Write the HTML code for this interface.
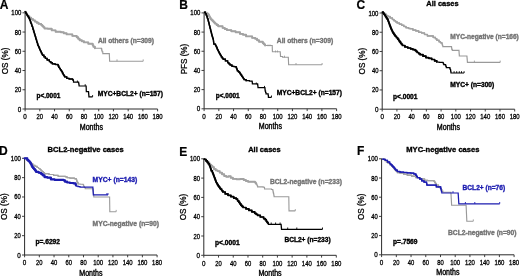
<!DOCTYPE html>
<html><head><meta charset="utf-8"><style>
html,body{margin:0;padding:0;background:#fff;width:520px;height:276px;overflow:hidden}
svg{display:block;will-change:transform}
text{font-family:"Liberation Sans", sans-serif}
</style></head><body>
<svg width="520" height="276" viewBox="0 0 520 276">
<rect width="520" height="276" fill="#fff"/>
<path d="M25.10 12.50V109.00H157.60" fill="none" stroke="#2a2a2a" stroke-width="1"/>
<path d="M22.50 109.00H25.10" stroke="#2a2a2a" stroke-width="0.9"/>
<text x="17.80" y="111.50" font-size="7" stroke="#000" stroke-width="0.3" textLength="3.5" lengthAdjust="spacingAndGlyphs">0</text>
<path d="M22.50 89.76H25.10" stroke="#2a2a2a" stroke-width="0.9"/>
<text x="14.80" y="92.26" font-size="7" stroke="#000" stroke-width="0.3" textLength="6.5" lengthAdjust="spacingAndGlyphs">20</text>
<path d="M22.50 70.52H25.10" stroke="#2a2a2a" stroke-width="0.9"/>
<text x="14.80" y="73.02" font-size="7" stroke="#000" stroke-width="0.3" textLength="6.5" lengthAdjust="spacingAndGlyphs">40</text>
<path d="M22.50 51.28H25.10" stroke="#2a2a2a" stroke-width="0.9"/>
<text x="14.80" y="53.78" font-size="7" stroke="#000" stroke-width="0.3" textLength="6.5" lengthAdjust="spacingAndGlyphs">60</text>
<path d="M22.50 32.04H25.10" stroke="#2a2a2a" stroke-width="0.9"/>
<text x="14.80" y="34.54" font-size="7" stroke="#000" stroke-width="0.3" textLength="6.5" lengthAdjust="spacingAndGlyphs">80</text>
<path d="M22.50 12.80H25.10" stroke="#2a2a2a" stroke-width="0.9"/>
<text x="11.30" y="15.30" font-size="7" stroke="#000" stroke-width="0.3" textLength="10.0" lengthAdjust="spacingAndGlyphs">100</text>
<path d="M25.10 109.00V111.30" stroke="#2a2a2a" stroke-width="0.9"/>
<text x="23.35" y="119.20" font-size="7" stroke="#000" stroke-width="0.3" textLength="3.5" lengthAdjust="spacingAndGlyphs">0</text>
<path d="M39.82 109.00V111.30" stroke="#2a2a2a" stroke-width="0.9"/>
<text x="36.57" y="119.20" font-size="7" stroke="#000" stroke-width="0.3" textLength="6.5" lengthAdjust="spacingAndGlyphs">20</text>
<path d="M54.54 109.00V111.30" stroke="#2a2a2a" stroke-width="0.9"/>
<text x="51.29" y="119.20" font-size="7" stroke="#000" stroke-width="0.3" textLength="6.5" lengthAdjust="spacingAndGlyphs">40</text>
<path d="M69.27 109.00V111.30" stroke="#2a2a2a" stroke-width="0.9"/>
<text x="66.02" y="119.20" font-size="7" stroke="#000" stroke-width="0.3" textLength="6.5" lengthAdjust="spacingAndGlyphs">60</text>
<path d="M83.99 109.00V111.30" stroke="#2a2a2a" stroke-width="0.9"/>
<text x="80.74" y="119.20" font-size="7" stroke="#000" stroke-width="0.3" textLength="6.5" lengthAdjust="spacingAndGlyphs">80</text>
<path d="M98.71 109.00V111.30" stroke="#2a2a2a" stroke-width="0.9"/>
<text x="93.71" y="119.20" font-size="7" stroke="#000" stroke-width="0.3" textLength="10.0" lengthAdjust="spacingAndGlyphs">100</text>
<path d="M113.43 109.00V111.30" stroke="#2a2a2a" stroke-width="0.9"/>
<text x="108.43" y="119.20" font-size="7" stroke="#000" stroke-width="0.3" textLength="10.0" lengthAdjust="spacingAndGlyphs">120</text>
<path d="M128.16 109.00V111.30" stroke="#2a2a2a" stroke-width="0.9"/>
<text x="123.16" y="119.20" font-size="7" stroke="#000" stroke-width="0.3" textLength="10.0" lengthAdjust="spacingAndGlyphs">140</text>
<path d="M142.88 109.00V111.30" stroke="#2a2a2a" stroke-width="0.9"/>
<text x="137.88" y="119.20" font-size="7" stroke="#000" stroke-width="0.3" textLength="10.0" lengthAdjust="spacingAndGlyphs">160</text>
<path d="M157.60 109.00V111.30" stroke="#2a2a2a" stroke-width="0.9"/>
<text x="152.60" y="119.20" font-size="7" stroke="#000" stroke-width="0.3" textLength="10.0" lengthAdjust="spacingAndGlyphs">180</text>
<text x="79.75" y="129.60" font-size="8.4" stroke="#000" stroke-width="0.4" textLength="23.2" lengthAdjust="spacingAndGlyphs">Months</text>
<text transform="translate(7.60 60.90) rotate(-90)" x="-13.30" y="0" font-size="8.6" stroke="#000" stroke-width="0.28" textLength="26.6" lengthAdjust="spacingAndGlyphs">OS (%)</text>
<text x="-0.2" y="8.7" font-size="12" font-weight="bold" stroke="#000" stroke-width="0.2">A</text>
<polyline points="24.90,11.80 25.80,11.80 25.80,13.30 26.70,13.30 26.70,14.80 27.60,14.80 27.60,16.30 29.40,16.30 29.40,17.70 31.20,17.70 31.20,19.10 33.05,19.10 33.05,20.35 34.90,20.35 34.90,21.60 36.75,21.60 36.75,22.75 38.60,22.75 38.60,23.90 41.20,23.90 41.20,24.90 42.30,24.90 42.30,26.10 43.40,26.10 43.40,27.30 44.50,27.30 44.50,28.50 47.80,28.50 47.80,28.80 51.70,28.80 51.70,30.40 55.60,30.40 55.60,31.70 60.80,31.70 60.80,32.20 63.70,32.20 63.70,33.30 66.60,33.30 66.60,34.40 72.40,34.40 72.40,35.90 76.70,35.90 76.70,37.30 78.15,37.30 78.15,38.75 79.60,38.75 79.60,40.20 81.80,40.20 81.80,41.30 84.00,41.30 84.00,42.40 88.30,42.40 88.30,43.80 92.00,43.80 92.70,43.80 92.70,45.25 93.40,45.25 93.40,46.70 94.90,46.70 94.90,48.20 101.40,48.20 101.40,48.90 101.75,48.90 101.75,50.35 102.10,50.35 102.10,51.80 102.80,51.80 102.80,53.60 109.30,53.60 109.30,53.90 109.35,53.90 109.35,55.12 109.40,55.12 109.40,56.33 109.45,56.33 109.45,57.55 109.50,57.55 109.50,58.77 109.55,58.77 109.55,59.98 109.60,59.98 109.60,61.20 143.20,61.20" fill="none" stroke="#9a9a9a" stroke-width="1.1" stroke-linejoin="miter"/>
<polyline points="24.90,11.80 25.80,11.80 25.80,13.30 26.70,13.30 26.70,14.80 27.60,14.80 27.60,16.30 29.40,16.30 29.40,17.70 31.20,17.70 31.20,19.10 33.05,19.10 33.05,20.35 34.90,20.35 34.90,21.60 36.75,21.60 36.75,22.75 38.60,22.75 38.60,23.90 41.20,23.90 41.20,24.90 42.30,24.90 42.30,26.10 43.40,26.10 43.40,27.30 44.50,27.30 44.50,28.50 47.80,28.50 47.80,28.80 51.70,28.80 51.70,30.40 55.60,30.40 55.60,31.70 60.80,31.70 60.80,32.20 63.70,32.20 63.70,33.30 66.60,33.30 66.60,34.40 72.40,34.40 72.40,35.90 76.70,35.90 76.70,37.30 78.15,37.30 78.15,38.75 79.60,38.75 79.60,40.20 81.80,40.20 81.80,41.30 84.00,41.30 84.00,42.40 88.30,42.40 88.30,43.80 92.00,43.80 92.70,43.80 92.70,45.25 93.40,45.25 93.40,46.70 94.90,46.70 94.90,48.20" fill="none" stroke="#a2a2a2" stroke-width="1.9" stroke-linejoin="round" stroke-linecap="round"/>
<polyline points="24.90,11.80 25.67,11.80 25.67,13.03 26.43,13.03 26.43,14.27 27.20,14.27 27.20,15.50 27.93,15.50 27.93,16.70 28.67,16.70 28.67,17.90 29.40,17.90 29.40,19.10 29.93,19.10 29.93,20.57 30.47,20.57 30.47,22.03 31.00,22.03 31.00,23.50 31.53,23.50 31.53,25.00 32.07,25.00 32.07,26.50 32.60,26.50 32.60,28.00 33.05,28.00 33.05,29.45 33.50,29.45 33.50,30.90 33.95,30.90 33.95,32.35 34.40,32.35 34.40,33.80 34.83,33.80 34.83,35.25 35.25,35.25 35.25,36.70 35.67,36.70 35.67,38.15 36.10,38.15 36.10,39.60 36.55,39.60 36.55,41.05 37.00,41.05 37.00,42.50 37.45,42.50 37.45,43.95 37.90,43.95 37.90,45.40 38.48,45.40 38.48,46.70 39.05,46.70 39.05,48.00 39.62,48.00 39.62,49.30 40.20,49.30 40.20,50.60 40.78,50.60 40.78,51.75 41.35,51.75 41.35,52.90 41.92,52.90 41.92,54.05 42.50,54.05 42.50,55.20 43.95,55.20 43.95,56.80 45.40,56.80 45.40,58.40 47.10,58.40 47.10,60.00 49.40,60.00 49.40,61.60 50.85,61.60 50.85,62.70 52.30,62.70 52.30,63.80 55.20,63.80 55.20,64.50 57.40,64.50 58.10,64.50 58.10,65.95 58.80,65.95 58.80,67.40 59.55,67.40 59.55,68.50 60.30,68.50 60.30,69.60 61.00,69.60 61.00,70.65 61.70,70.65 61.70,71.70 62.45,71.70 62.45,73.15 63.20,73.15 63.20,74.60 63.90,74.60 63.90,75.70 64.60,75.70 64.60,76.80 66.80,76.80 66.80,78.30 69.00,78.30 69.00,79.00 72.60,79.00 72.60,79.70 73.20,79.70 73.20,80.30 73.50,80.30 73.50,82.10 78.50,82.10 78.50,82.30 78.70,82.30 78.70,83.53 78.90,83.53 78.90,84.77 79.10,84.77 79.10,86.00 86.10,86.00 86.15,86.00 86.15,87.42 86.20,87.42 86.20,88.85 86.25,88.85 86.25,90.28 86.30,90.28 86.30,91.70 88.50,91.70 88.50,92.00 88.60,92.00 88.60,93.22 88.70,93.22 88.70,94.45 88.80,94.45 88.80,95.68 88.90,95.68 88.90,96.90 92.60,96.90" fill="none" stroke="#000" stroke-width="1.2" stroke-linejoin="miter"/>
<polyline points="24.90,11.80 25.67,11.80 25.67,13.03 26.43,13.03 26.43,14.27 27.20,14.27 27.20,15.50 27.93,15.50 27.93,16.70 28.67,16.70 28.67,17.90 29.40,17.90 29.40,19.10 29.93,19.10 29.93,20.57 30.47,20.57 30.47,22.03 31.00,22.03 31.00,23.50 31.53,23.50 31.53,25.00 32.07,25.00 32.07,26.50 32.60,26.50 32.60,28.00 33.05,28.00 33.05,29.45 33.50,29.45 33.50,30.90 33.95,30.90 33.95,32.35 34.40,32.35 34.40,33.80 34.83,33.80 34.83,35.25 35.25,35.25 35.25,36.70 35.67,36.70 35.67,38.15 36.10,38.15 36.10,39.60 36.55,39.60 36.55,41.05 37.00,41.05 37.00,42.50 37.45,42.50 37.45,43.95 37.90,43.95 37.90,45.40 38.48,45.40 38.48,46.70 39.05,46.70 39.05,48.00 39.62,48.00 39.62,49.30 40.20,49.30 40.20,50.60 40.78,50.60 40.78,51.75 41.35,51.75 41.35,52.90 41.92,52.90 41.92,54.05 42.50,54.05 42.50,55.20 43.95,55.20 43.95,56.80 45.40,56.80 45.40,58.40 47.10,58.40 47.10,60.00 49.40,60.00 49.40,61.60 50.85,61.60 50.85,62.70 52.30,62.70 52.30,63.80 55.20,63.80 55.20,64.50 57.40,64.50 58.10,64.50 58.10,65.95 58.80,65.95 58.80,67.40 59.55,67.40 59.55,68.50 60.30,68.50 60.30,69.60 61.00,69.60 61.00,70.65 61.70,70.65 61.70,71.70 62.45,71.70 62.45,73.15 63.20,73.15 63.20,74.60 63.90,74.60 63.90,75.70 64.60,75.70 64.60,76.80 66.80,76.80 66.80,78.30 69.00,78.30 69.00,79.00 72.60,79.00 72.60,79.70" fill="none" stroke="#000" stroke-width="1.35" stroke-linejoin="round" stroke-linecap="round"/>
<path d="M117.0 59.4V61.2" stroke="#9a9a9a" stroke-width="0.9"/>
<path d="M143.2 59.4V61.2" stroke="#9a9a9a" stroke-width="0.9"/>
<path d="M77.4 80.5V82.3" stroke="#000" stroke-width="0.9"/>
<path d="M85.2 84.2V86.0" stroke="#000" stroke-width="0.9"/>
<path d="M92.6 95.1V96.9" stroke="#000" stroke-width="0.9"/>
<text x="97.9" y="43.10" font-size="6.95" font-weight="bold" fill="#747474" stroke="#747474" stroke-width="0.38" textLength="56.1" lengthAdjust="spacingAndGlyphs">All others (n=309)</text>
<text x="97.7" y="95.80" font-size="6.95" font-weight="bold" fill="#000" stroke="#000" stroke-width="0.38" textLength="65.3" lengthAdjust="spacingAndGlyphs">MYC+BCL2+ (n=157)</text>
<text x="36.5" y="98.40" font-size="6.95" font-weight="bold" fill="#000" stroke="#000" stroke-width="0.38" textLength="23.9" lengthAdjust="spacingAndGlyphs">p&lt;.0001</text>
<path d="M204.10 12.60V108.80H336.60" fill="none" stroke="#2a2a2a" stroke-width="1"/>
<path d="M201.50 108.80H204.10" stroke="#2a2a2a" stroke-width="0.9"/>
<text x="196.80" y="111.30" font-size="7" stroke="#000" stroke-width="0.3" textLength="3.5" lengthAdjust="spacingAndGlyphs">0</text>
<path d="M201.50 89.62H204.10" stroke="#2a2a2a" stroke-width="0.9"/>
<text x="193.80" y="92.12" font-size="7" stroke="#000" stroke-width="0.3" textLength="6.5" lengthAdjust="spacingAndGlyphs">20</text>
<path d="M201.50 70.44H204.10" stroke="#2a2a2a" stroke-width="0.9"/>
<text x="193.80" y="72.94" font-size="7" stroke="#000" stroke-width="0.3" textLength="6.5" lengthAdjust="spacingAndGlyphs">40</text>
<path d="M201.50 51.26H204.10" stroke="#2a2a2a" stroke-width="0.9"/>
<text x="193.80" y="53.76" font-size="7" stroke="#000" stroke-width="0.3" textLength="6.5" lengthAdjust="spacingAndGlyphs">60</text>
<path d="M201.50 32.08H204.10" stroke="#2a2a2a" stroke-width="0.9"/>
<text x="193.80" y="34.58" font-size="7" stroke="#000" stroke-width="0.3" textLength="6.5" lengthAdjust="spacingAndGlyphs">80</text>
<path d="M201.50 12.90H204.10" stroke="#2a2a2a" stroke-width="0.9"/>
<text x="190.30" y="15.40" font-size="7" stroke="#000" stroke-width="0.3" textLength="10.0" lengthAdjust="spacingAndGlyphs">100</text>
<path d="M204.10 108.80V111.10" stroke="#2a2a2a" stroke-width="0.9"/>
<text x="202.35" y="119.00" font-size="7" stroke="#000" stroke-width="0.3" textLength="3.5" lengthAdjust="spacingAndGlyphs">0</text>
<path d="M218.82 108.80V111.10" stroke="#2a2a2a" stroke-width="0.9"/>
<text x="215.57" y="119.00" font-size="7" stroke="#000" stroke-width="0.3" textLength="6.5" lengthAdjust="spacingAndGlyphs">20</text>
<path d="M233.54 108.80V111.10" stroke="#2a2a2a" stroke-width="0.9"/>
<text x="230.29" y="119.00" font-size="7" stroke="#000" stroke-width="0.3" textLength="6.5" lengthAdjust="spacingAndGlyphs">40</text>
<path d="M248.27 108.80V111.10" stroke="#2a2a2a" stroke-width="0.9"/>
<text x="245.02" y="119.00" font-size="7" stroke="#000" stroke-width="0.3" textLength="6.5" lengthAdjust="spacingAndGlyphs">60</text>
<path d="M262.99 108.80V111.10" stroke="#2a2a2a" stroke-width="0.9"/>
<text x="259.74" y="119.00" font-size="7" stroke="#000" stroke-width="0.3" textLength="6.5" lengthAdjust="spacingAndGlyphs">80</text>
<path d="M277.71 108.80V111.10" stroke="#2a2a2a" stroke-width="0.9"/>
<text x="272.71" y="119.00" font-size="7" stroke="#000" stroke-width="0.3" textLength="10.0" lengthAdjust="spacingAndGlyphs">100</text>
<path d="M292.43 108.80V111.10" stroke="#2a2a2a" stroke-width="0.9"/>
<text x="287.43" y="119.00" font-size="7" stroke="#000" stroke-width="0.3" textLength="10.0" lengthAdjust="spacingAndGlyphs">120</text>
<path d="M307.16 108.80V111.10" stroke="#2a2a2a" stroke-width="0.9"/>
<text x="302.16" y="119.00" font-size="7" stroke="#000" stroke-width="0.3" textLength="10.0" lengthAdjust="spacingAndGlyphs">140</text>
<path d="M321.88 108.80V111.10" stroke="#2a2a2a" stroke-width="0.9"/>
<text x="316.88" y="119.00" font-size="7" stroke="#000" stroke-width="0.3" textLength="10.0" lengthAdjust="spacingAndGlyphs">160</text>
<path d="M336.60 108.80V111.10" stroke="#2a2a2a" stroke-width="0.9"/>
<text x="331.60" y="119.00" font-size="7" stroke="#000" stroke-width="0.3" textLength="10.0" lengthAdjust="spacingAndGlyphs">180</text>
<text x="258.75" y="129.40" font-size="8.4" stroke="#000" stroke-width="0.4" textLength="23.2" lengthAdjust="spacingAndGlyphs">Months</text>
<text transform="translate(186.60 59.05) rotate(-90)" x="-15.30" y="0" font-size="8.6" stroke="#000" stroke-width="0.28" textLength="30.6" lengthAdjust="spacingAndGlyphs">PFS (%)</text>
<text x="179.3" y="8.9" font-size="12" font-weight="bold" stroke="#000" stroke-width="0.2">B</text>
<polyline points="204.40,12.20 205.20,12.20 205.20,12.70 206.80,12.70 206.80,13.80 208.40,13.80 208.40,14.90 209.13,14.90 209.13,16.33 209.87,16.33 209.87,17.77 210.60,17.77 210.60,19.20 211.70,19.20 211.70,20.30 212.80,20.30 212.80,21.40 213.90,21.40 213.90,22.50 215.00,22.50 215.00,23.60 216.60,23.60 216.60,24.95 218.20,24.95 218.20,26.30 222.60,26.30 222.60,27.90 224.75,27.90 224.75,29.00 226.90,29.00 226.90,30.10 231.30,30.10 231.30,31.20 235.60,31.20 235.60,32.30 240.00,32.30 240.00,33.90 243.00,33.90 243.00,34.80 246.10,34.80 246.10,36.40 252.20,36.40 252.20,37.90 255.20,37.90 255.20,38.70 257.10,38.70 257.10,40.20 259.00,40.20 259.00,41.70 262.80,41.70 262.80,43.20 263.95,43.20 263.95,44.35 265.10,44.35 265.10,45.50 272.20,45.50 272.20,46.30 272.25,46.30 272.25,47.67 272.30,47.67 272.30,49.05 272.35,49.05 272.35,50.42 272.40,50.42 272.40,51.80 280.20,51.80 280.20,52.30 280.30,52.30 280.30,53.70 280.40,53.70 280.40,55.10 280.50,55.10 280.50,56.50 282.60,56.50 282.60,57.20 288.30,57.20 288.30,57.70 288.36,57.70 288.36,59.12 288.42,59.12 288.42,60.54 288.48,60.54 288.48,61.96 288.54,61.96 288.54,63.38 288.60,63.38 288.60,64.80 322.10,64.80" fill="none" stroke="#9a9a9a" stroke-width="1.1" stroke-linejoin="miter"/>
<polyline points="204.40,12.20 205.20,12.20 205.20,12.70 206.80,12.70 206.80,13.80 208.40,13.80 208.40,14.90 209.13,14.90 209.13,16.33 209.87,16.33 209.87,17.77 210.60,17.77 210.60,19.20 211.70,19.20 211.70,20.30 212.80,20.30 212.80,21.40 213.90,21.40 213.90,22.50 215.00,22.50 215.00,23.60 216.60,23.60 216.60,24.95 218.20,24.95 218.20,26.30 222.60,26.30 222.60,27.90 224.75,27.90 224.75,29.00 226.90,29.00 226.90,30.10 231.30,30.10 231.30,31.20 235.60,31.20 235.60,32.30 240.00,32.30 240.00,33.90 243.00,33.90 243.00,34.80 246.10,34.80 246.10,36.40 252.20,36.40 252.20,37.90 255.20,37.90 255.20,38.70 257.10,38.70 257.10,40.20 259.00,40.20 259.00,41.70 262.80,41.70 262.80,43.20 263.95,43.20 263.95,44.35 265.10,44.35 265.10,45.50" fill="none" stroke="#a2a2a2" stroke-width="1.9" stroke-linejoin="round" stroke-linecap="round"/>
<polyline points="204.40,12.20 205.35,12.20 205.35,13.80 206.30,13.80 206.30,15.40 206.83,15.40 206.83,16.87 207.37,16.87 207.37,18.33 207.90,18.33 207.90,19.80 208.27,19.80 208.27,21.23 208.63,21.23 208.63,22.67 209.00,22.67 209.00,24.10 209.37,24.10 209.37,25.57 209.73,25.57 209.73,27.03 210.10,27.03 210.10,28.50 210.47,28.50 210.47,29.93 210.83,29.93 210.83,31.37 211.20,31.37 211.20,32.80 211.53,32.80 211.53,34.07 211.87,34.07 211.87,35.33 212.20,35.33 212.20,36.60 212.57,36.60 212.57,37.73 212.93,37.73 212.93,38.87 213.30,38.87 213.30,40.00 213.47,40.00 213.47,41.37 213.63,41.37 213.63,42.73 213.80,42.73 213.80,44.10 215.50,44.10 215.50,45.30 216.10,45.30 216.10,46.63 216.70,46.63 216.70,47.97 217.30,47.97 217.30,49.30 217.88,49.30 217.88,50.47 218.45,50.47 218.45,51.65 219.03,51.65 219.03,52.83 219.60,52.83 219.60,54.00 220.45,54.00 220.45,55.45 221.30,55.45 221.30,56.90 222.20,56.90 222.20,58.05 223.10,58.05 223.10,59.20 225.40,59.20 225.40,60.90 227.70,60.90 227.70,62.70 228.85,62.70 228.85,63.85 230.00,63.85 230.00,65.00 232.00,65.00 232.00,66.40 234.00,66.40 234.00,66.60 236.00,66.60 236.00,67.20 236.47,67.20 236.47,68.43 236.93,68.43 236.93,69.67 237.40,69.67 237.40,70.90 238.50,70.90 238.50,71.95 239.60,71.95 239.60,73.00 240.33,73.00 240.33,74.10 241.07,74.10 241.07,75.20 241.80,75.20 241.80,76.30 242.53,76.30 242.53,77.40 243.27,77.40 243.27,78.50 244.00,78.50 244.00,79.60 246.10,79.60 246.10,80.70 249.40,80.70 249.40,81.20 252.10,81.20 252.10,81.70 252.25,81.70 252.25,82.80 252.40,82.80 252.40,83.90 257.60,83.90 257.60,84.30 257.73,84.30 257.73,85.43 257.87,85.43 257.87,86.57 258.00,86.57 258.00,87.70 264.80,87.70 264.93,87.70 264.93,88.87 265.07,88.87 265.07,90.03 265.20,90.03 265.20,91.20 265.60,91.20 265.60,92.50 266.00,92.50 266.00,93.80 268.00,93.80 268.00,94.10 268.20,94.10 268.20,95.70 268.40,95.70 268.40,97.30 271.50,97.30" fill="none" stroke="#000" stroke-width="1.2" stroke-linejoin="miter"/>
<polyline points="204.40,12.20 205.35,12.20 205.35,13.80 206.30,13.80 206.30,15.40 206.83,15.40 206.83,16.87 207.37,16.87 207.37,18.33 207.90,18.33 207.90,19.80 208.27,19.80 208.27,21.23 208.63,21.23 208.63,22.67 209.00,22.67 209.00,24.10 209.37,24.10 209.37,25.57 209.73,25.57 209.73,27.03 210.10,27.03 210.10,28.50 210.47,28.50 210.47,29.93 210.83,29.93 210.83,31.37 211.20,31.37 211.20,32.80 211.53,32.80 211.53,34.07 211.87,34.07 211.87,35.33 212.20,35.33 212.20,36.60 212.57,36.60 212.57,37.73 212.93,37.73 212.93,38.87 213.30,38.87 213.30,40.00 213.47,40.00 213.47,41.37 213.63,41.37 213.63,42.73 213.80,42.73 213.80,44.10 215.50,44.10 215.50,45.30 216.10,45.30 216.10,46.63 216.70,46.63 216.70,47.97 217.30,47.97 217.30,49.30 217.88,49.30 217.88,50.47 218.45,50.47 218.45,51.65 219.03,51.65 219.03,52.83 219.60,52.83 219.60,54.00 220.45,54.00 220.45,55.45 221.30,55.45 221.30,56.90 222.20,56.90 222.20,58.05 223.10,58.05 223.10,59.20 225.40,59.20 225.40,60.90 227.70,60.90 227.70,62.70 228.85,62.70 228.85,63.85 230.00,63.85 230.00,65.00 232.00,65.00 232.00,66.40 234.00,66.40 234.00,66.60 236.00,66.60 236.00,67.20 236.47,67.20 236.47,68.43 236.93,68.43 236.93,69.67 237.40,69.67 237.40,70.90 238.50,70.90 238.50,71.95 239.60,71.95 239.60,73.00 240.33,73.00 240.33,74.10 241.07,74.10 241.07,75.20 241.80,75.20 241.80,76.30 242.53,76.30 242.53,77.40 243.27,77.40 243.27,78.50 244.00,78.50 244.00,79.60 246.10,79.60 246.10,80.70" fill="none" stroke="#000" stroke-width="1.35" stroke-linejoin="round" stroke-linecap="round"/>
<path d="M296.0 63.0V64.8" stroke="#9a9a9a" stroke-width="0.9"/>
<path d="M322.1 63.0V64.8" stroke="#9a9a9a" stroke-width="0.9"/>
<path d="M275.5 50.5V52.3" stroke="#9a9a9a" stroke-width="0.9"/>
<path d="M277.5 50.5V52.3" stroke="#9a9a9a" stroke-width="0.9"/>
<path d="M284.5 55.7V57.5" stroke="#9a9a9a" stroke-width="0.9"/>
<path d="M268.0 44.5V46.3" stroke="#9a9a9a" stroke-width="0.9"/>
<path d="M270.0 44.5V46.3" stroke="#9a9a9a" stroke-width="0.9"/>
<path d="M256.3 82.5V84.3" stroke="#000" stroke-width="0.9"/>
<path d="M264.5 85.9V87.7" stroke="#000" stroke-width="0.9"/>
<path d="M271.5 95.5V97.3" stroke="#000" stroke-width="0.9"/>
<text x="276.8" y="42.70" font-size="6.95" font-weight="bold" fill="#747474" stroke="#747474" stroke-width="0.38" textLength="56.4" lengthAdjust="spacingAndGlyphs">All others (n=309)</text>
<text x="276.7" y="95.10" font-size="6.95" font-weight="bold" fill="#000" stroke="#000" stroke-width="0.38" textLength="65.3" lengthAdjust="spacingAndGlyphs">MYC+BCL2+ (n=157)</text>
<text x="215.8" y="98.40" font-size="6.95" font-weight="bold" fill="#000" stroke="#000" stroke-width="0.38" textLength="23.9" lengthAdjust="spacingAndGlyphs">p&lt;.0001</text>
<path d="M382.20 12.70V109.20H514.70" fill="none" stroke="#2a2a2a" stroke-width="1"/>
<path d="M379.60 109.20H382.20" stroke="#2a2a2a" stroke-width="0.9"/>
<text x="374.90" y="111.70" font-size="7" stroke="#000" stroke-width="0.3" textLength="3.5" lengthAdjust="spacingAndGlyphs">0</text>
<path d="M379.60 89.96H382.20" stroke="#2a2a2a" stroke-width="0.9"/>
<text x="371.90" y="92.46" font-size="7" stroke="#000" stroke-width="0.3" textLength="6.5" lengthAdjust="spacingAndGlyphs">20</text>
<path d="M379.60 70.72H382.20" stroke="#2a2a2a" stroke-width="0.9"/>
<text x="371.90" y="73.22" font-size="7" stroke="#000" stroke-width="0.3" textLength="6.5" lengthAdjust="spacingAndGlyphs">40</text>
<path d="M379.60 51.48H382.20" stroke="#2a2a2a" stroke-width="0.9"/>
<text x="371.90" y="53.98" font-size="7" stroke="#000" stroke-width="0.3" textLength="6.5" lengthAdjust="spacingAndGlyphs">60</text>
<path d="M379.60 32.24H382.20" stroke="#2a2a2a" stroke-width="0.9"/>
<text x="371.90" y="34.74" font-size="7" stroke="#000" stroke-width="0.3" textLength="6.5" lengthAdjust="spacingAndGlyphs">80</text>
<path d="M379.60 13.00H382.20" stroke="#2a2a2a" stroke-width="0.9"/>
<text x="368.40" y="15.50" font-size="7" stroke="#000" stroke-width="0.3" textLength="10.0" lengthAdjust="spacingAndGlyphs">100</text>
<path d="M382.20 109.20V111.50" stroke="#2a2a2a" stroke-width="0.9"/>
<text x="380.45" y="119.40" font-size="7" stroke="#000" stroke-width="0.3" textLength="3.5" lengthAdjust="spacingAndGlyphs">0</text>
<path d="M396.92 109.20V111.50" stroke="#2a2a2a" stroke-width="0.9"/>
<text x="393.67" y="119.40" font-size="7" stroke="#000" stroke-width="0.3" textLength="6.5" lengthAdjust="spacingAndGlyphs">20</text>
<path d="M411.64 109.20V111.50" stroke="#2a2a2a" stroke-width="0.9"/>
<text x="408.39" y="119.40" font-size="7" stroke="#000" stroke-width="0.3" textLength="6.5" lengthAdjust="spacingAndGlyphs">40</text>
<path d="M426.37 109.20V111.50" stroke="#2a2a2a" stroke-width="0.9"/>
<text x="423.12" y="119.40" font-size="7" stroke="#000" stroke-width="0.3" textLength="6.5" lengthAdjust="spacingAndGlyphs">60</text>
<path d="M441.09 109.20V111.50" stroke="#2a2a2a" stroke-width="0.9"/>
<text x="437.84" y="119.40" font-size="7" stroke="#000" stroke-width="0.3" textLength="6.5" lengthAdjust="spacingAndGlyphs">80</text>
<path d="M455.81 109.20V111.50" stroke="#2a2a2a" stroke-width="0.9"/>
<text x="450.81" y="119.40" font-size="7" stroke="#000" stroke-width="0.3" textLength="10.0" lengthAdjust="spacingAndGlyphs">100</text>
<path d="M470.53 109.20V111.50" stroke="#2a2a2a" stroke-width="0.9"/>
<text x="465.53" y="119.40" font-size="7" stroke="#000" stroke-width="0.3" textLength="10.0" lengthAdjust="spacingAndGlyphs">120</text>
<path d="M485.26 109.20V111.50" stroke="#2a2a2a" stroke-width="0.9"/>
<text x="480.26" y="119.40" font-size="7" stroke="#000" stroke-width="0.3" textLength="10.0" lengthAdjust="spacingAndGlyphs">140</text>
<path d="M499.98 109.20V111.50" stroke="#2a2a2a" stroke-width="0.9"/>
<text x="494.98" y="119.40" font-size="7" stroke="#000" stroke-width="0.3" textLength="10.0" lengthAdjust="spacingAndGlyphs">160</text>
<path d="M514.70 109.20V111.50" stroke="#2a2a2a" stroke-width="0.9"/>
<text x="509.70" y="119.40" font-size="7" stroke="#000" stroke-width="0.3" textLength="10.0" lengthAdjust="spacingAndGlyphs">180</text>
<text x="436.85" y="129.80" font-size="8.4" stroke="#000" stroke-width="0.4" textLength="23.2" lengthAdjust="spacingAndGlyphs">Months</text>
<text transform="translate(364.70 61.10) rotate(-90)" x="-13.30" y="0" font-size="8.6" stroke="#000" stroke-width="0.28" textLength="26.6" lengthAdjust="spacingAndGlyphs">OS (%)</text>
<text x="356.6" y="8.8" font-size="12" font-weight="bold" stroke="#000" stroke-width="0.2">C</text>
<text x="426.3" y="5.8" font-size="7.8" font-weight="bold" stroke="#000" stroke-width="0.35" textLength="32.3" lengthAdjust="spacingAndGlyphs">All cases</text>
<polyline points="382.40,12.20 383.20,12.20 383.20,13.20 384.73,13.20 384.73,14.33 386.27,14.33 386.27,15.47 387.80,15.47 387.80,16.60 390.10,16.60 390.10,18.05 392.40,18.05 392.40,19.50 393.97,19.50 393.97,20.67 395.53,20.67 395.53,21.83 397.10,21.83 397.10,23.00 399.40,23.00 399.40,24.15 401.70,24.15 401.70,25.30 403.85,25.30 403.85,26.50 406.00,26.50 406.00,27.70 408.50,27.70 408.50,28.40 410.00,28.40 410.00,28.80 412.90,28.80 412.90,30.10 415.80,30.10 415.80,30.90 418.70,30.90 418.70,32.30 421.60,32.30 421.60,33.00 424.50,33.00 424.50,34.50 427.40,34.50 427.40,35.90 430.30,35.90 433.20,35.90 433.20,37.40 435.40,37.40 435.40,38.80 436.80,38.80 436.80,40.20 439.00,40.20 439.00,41.70 440.45,41.70 440.45,42.75 441.90,42.75 441.90,43.80 442.35,43.80 442.35,45.20 442.80,45.20 442.80,46.60 451.30,46.60 451.55,46.60 451.55,48.00 451.80,48.00 451.80,49.40 452.30,49.40 452.30,50.40 458.90,50.40 459.00,50.40 459.00,51.80 459.10,51.80 459.10,53.20 459.20,53.20 459.20,54.60 459.30,54.60 459.30,56.00 466.90,56.00 466.90,56.50 467.00,56.50 467.00,57.68 467.10,57.68 467.10,58.86 467.20,58.86 467.20,60.04 467.30,60.04 467.30,61.22 467.40,61.22 467.40,62.40 500.20,62.40" fill="none" stroke="#9a9a9a" stroke-width="1.1" stroke-linejoin="miter"/>
<polyline points="382.40,12.20 383.20,12.20 383.20,13.20 384.73,13.20 384.73,14.33 386.27,14.33 386.27,15.47 387.80,15.47 387.80,16.60 390.10,16.60 390.10,18.05 392.40,18.05 392.40,19.50 393.97,19.50 393.97,20.67 395.53,20.67 395.53,21.83 397.10,21.83 397.10,23.00 399.40,23.00 399.40,24.15 401.70,24.15 401.70,25.30 403.85,25.30 403.85,26.50 406.00,26.50 406.00,27.70 408.50,27.70 408.50,28.40 410.00,28.40 410.00,28.80 412.90,28.80 412.90,30.10 415.80,30.10 415.80,30.90 418.70,30.90 418.70,32.30 421.60,32.30 421.60,33.00 424.50,33.00 424.50,34.50 427.40,34.50 427.40,35.90 430.30,35.90 433.20,35.90 433.20,37.40 435.40,37.40 435.40,38.80 436.80,38.80 436.80,40.20 439.00,40.20 439.00,41.70 440.45,41.70 440.45,42.75 441.90,42.75 441.90,43.80" fill="none" stroke="#a2a2a2" stroke-width="1.5" stroke-linejoin="round" stroke-linecap="round"/>
<polyline points="382.40,12.20 383.20,12.20 383.20,13.20 383.97,13.20 383.97,14.33 384.73,14.33 384.73,15.47 385.50,15.47 385.50,16.60 386.27,16.60 386.27,17.77 387.03,17.77 387.03,18.93 387.80,18.93 387.80,20.10 388.23,20.10 388.23,21.28 388.65,21.28 388.65,22.45 389.07,22.45 389.07,23.62 389.50,23.62 389.50,24.80 389.95,24.80 389.95,25.95 390.40,25.95 390.40,27.10 390.85,27.10 390.85,28.25 391.30,28.25 391.30,29.40 391.87,29.40 391.87,30.57 392.43,30.57 392.43,31.73 393.00,31.73 393.00,32.90 393.77,32.90 393.77,34.03 394.53,34.03 394.53,35.17 395.30,35.17 395.30,36.30 396.50,36.30 396.50,37.75 397.70,37.75 397.70,39.20 398.67,39.20 398.67,40.57 399.63,40.57 399.63,41.93 400.60,41.93 400.60,43.30 401.55,43.30 401.55,44.40 402.50,44.40 402.50,45.50 404.90,45.50 404.90,47.00 407.80,47.00 407.80,48.00 410.70,48.00 410.70,48.90 412.90,48.90 412.90,49.60 415.10,49.60 415.10,50.40 416.15,50.40 416.15,51.45 417.20,51.45 417.20,52.50 418.65,52.50 418.65,53.60 420.10,53.60 420.10,54.70 423.00,54.70 423.00,56.20 425.90,56.20 425.90,57.60 428.80,57.60 428.80,58.30 431.70,58.30 431.70,59.50 434.60,59.50 434.60,60.90 436.80,60.90 436.80,62.00 439.00,62.00 439.00,62.40 442.80,62.40 442.80,62.50 443.25,62.50 443.25,63.60 443.70,63.60 443.70,64.70 445.40,64.70 445.40,65.10 445.85,65.10 445.85,66.40 446.30,66.40 446.30,67.70 449.70,67.70 449.70,68.20 450.15,68.20 450.15,69.50 450.60,69.50 450.60,70.80 450.80,70.80 450.80,71.90 451.00,71.90 451.00,73.00 464.10,73.00" fill="none" stroke="#000" stroke-width="1.2" stroke-linejoin="miter"/>
<polyline points="382.40,12.20 383.20,12.20 383.20,13.20 383.97,13.20 383.97,14.33 384.73,14.33 384.73,15.47 385.50,15.47 385.50,16.60 386.27,16.60 386.27,17.77 387.03,17.77 387.03,18.93 387.80,18.93 387.80,20.10 388.23,20.10 388.23,21.28 388.65,21.28 388.65,22.45 389.07,22.45 389.07,23.62 389.50,23.62 389.50,24.80 389.95,24.80 389.95,25.95 390.40,25.95 390.40,27.10 390.85,27.10 390.85,28.25 391.30,28.25 391.30,29.40 391.87,29.40 391.87,30.57 392.43,30.57 392.43,31.73 393.00,31.73 393.00,32.90 393.77,32.90 393.77,34.03 394.53,34.03 394.53,35.17 395.30,35.17 395.30,36.30 396.50,36.30 396.50,37.75 397.70,37.75 397.70,39.20 398.67,39.20 398.67,40.57 399.63,40.57 399.63,41.93 400.60,41.93 400.60,43.30 401.55,43.30 401.55,44.40 402.50,44.40 402.50,45.50 404.90,45.50 404.90,47.00 407.80,47.00 407.80,48.00 410.70,48.00 410.70,48.90 412.90,48.90 412.90,49.60 415.10,49.60 415.10,50.40 416.15,50.40 416.15,51.45 417.20,51.45 417.20,52.50 418.65,52.50 418.65,53.60 420.10,53.60 420.10,54.70 423.00,54.70 423.00,56.20 425.90,56.20 425.90,57.60 428.80,57.60 428.80,58.30 431.70,58.30 431.70,59.50 434.60,59.50 434.60,60.90 436.80,60.90 436.80,62.00" fill="none" stroke="#000" stroke-width="1.7" stroke-linejoin="round" stroke-linecap="round"/>
<path d="M474.4 60.6V62.4" stroke="#9a9a9a" stroke-width="0.9"/>
<path d="M500.2 60.6V62.4" stroke="#9a9a9a" stroke-width="0.9"/>
<path d="M454.1 71.2V73.0" stroke="#000" stroke-width="0.9"/>
<path d="M456.7 71.2V73.0" stroke="#000" stroke-width="0.9"/>
<path d="M459.3 71.2V73.0" stroke="#000" stroke-width="0.9"/>
<path d="M461.5 71.2V73.0" stroke="#000" stroke-width="0.9"/>
<path d="M464.1 71.2V73.0" stroke="#000" stroke-width="0.9"/>
<text x="450.3" y="39.30" font-size="6.95" font-weight="bold" fill="#747474" stroke="#747474" stroke-width="0.38" textLength="68.5" lengthAdjust="spacingAndGlyphs">MYC-negative (n=166)</text>
<text x="450.3" y="86.90" font-size="6.95" font-weight="bold" fill="#000" stroke="#000" stroke-width="0.38" textLength="44.0" lengthAdjust="spacingAndGlyphs">MYC+ (n=300)</text>
<text x="393.0" y="98.70" font-size="6.95" font-weight="bold" fill="#000" stroke="#000" stroke-width="0.38" textLength="24.5" lengthAdjust="spacingAndGlyphs">p&lt;.0001</text>
<path d="M24.60 158.00V255.00H157.10" fill="none" stroke="#2a2a2a" stroke-width="1"/>
<path d="M22.00 255.00H24.60" stroke="#2a2a2a" stroke-width="0.9"/>
<text x="17.30" y="257.50" font-size="7" stroke="#000" stroke-width="0.3" textLength="3.5" lengthAdjust="spacingAndGlyphs">0</text>
<path d="M22.00 235.66H24.60" stroke="#2a2a2a" stroke-width="0.9"/>
<text x="14.30" y="238.16" font-size="7" stroke="#000" stroke-width="0.3" textLength="6.5" lengthAdjust="spacingAndGlyphs">20</text>
<path d="M22.00 216.32H24.60" stroke="#2a2a2a" stroke-width="0.9"/>
<text x="14.30" y="218.82" font-size="7" stroke="#000" stroke-width="0.3" textLength="6.5" lengthAdjust="spacingAndGlyphs">40</text>
<path d="M22.00 196.98H24.60" stroke="#2a2a2a" stroke-width="0.9"/>
<text x="14.30" y="199.48" font-size="7" stroke="#000" stroke-width="0.3" textLength="6.5" lengthAdjust="spacingAndGlyphs">60</text>
<path d="M22.00 177.64H24.60" stroke="#2a2a2a" stroke-width="0.9"/>
<text x="14.30" y="180.14" font-size="7" stroke="#000" stroke-width="0.3" textLength="6.5" lengthAdjust="spacingAndGlyphs">80</text>
<path d="M22.00 158.30H24.60" stroke="#2a2a2a" stroke-width="0.9"/>
<text x="10.80" y="160.80" font-size="7" stroke="#000" stroke-width="0.3" textLength="10.0" lengthAdjust="spacingAndGlyphs">100</text>
<path d="M24.60 255.00V257.30" stroke="#2a2a2a" stroke-width="0.9"/>
<text x="22.85" y="265.20" font-size="7" stroke="#000" stroke-width="0.3" textLength="3.5" lengthAdjust="spacingAndGlyphs">0</text>
<path d="M39.32 255.00V257.30" stroke="#2a2a2a" stroke-width="0.9"/>
<text x="36.07" y="265.20" font-size="7" stroke="#000" stroke-width="0.3" textLength="6.5" lengthAdjust="spacingAndGlyphs">20</text>
<path d="M54.04 255.00V257.30" stroke="#2a2a2a" stroke-width="0.9"/>
<text x="50.79" y="265.20" font-size="7" stroke="#000" stroke-width="0.3" textLength="6.5" lengthAdjust="spacingAndGlyphs">40</text>
<path d="M68.77 255.00V257.30" stroke="#2a2a2a" stroke-width="0.9"/>
<text x="65.52" y="265.20" font-size="7" stroke="#000" stroke-width="0.3" textLength="6.5" lengthAdjust="spacingAndGlyphs">60</text>
<path d="M83.49 255.00V257.30" stroke="#2a2a2a" stroke-width="0.9"/>
<text x="80.24" y="265.20" font-size="7" stroke="#000" stroke-width="0.3" textLength="6.5" lengthAdjust="spacingAndGlyphs">80</text>
<path d="M98.21 255.00V257.30" stroke="#2a2a2a" stroke-width="0.9"/>
<text x="93.21" y="265.20" font-size="7" stroke="#000" stroke-width="0.3" textLength="10.0" lengthAdjust="spacingAndGlyphs">100</text>
<path d="M112.93 255.00V257.30" stroke="#2a2a2a" stroke-width="0.9"/>
<text x="107.93" y="265.20" font-size="7" stroke="#000" stroke-width="0.3" textLength="10.0" lengthAdjust="spacingAndGlyphs">120</text>
<path d="M127.66 255.00V257.30" stroke="#2a2a2a" stroke-width="0.9"/>
<text x="122.66" y="265.20" font-size="7" stroke="#000" stroke-width="0.3" textLength="10.0" lengthAdjust="spacingAndGlyphs">140</text>
<path d="M142.38 255.00V257.30" stroke="#2a2a2a" stroke-width="0.9"/>
<text x="137.38" y="265.20" font-size="7" stroke="#000" stroke-width="0.3" textLength="10.0" lengthAdjust="spacingAndGlyphs">160</text>
<path d="M157.10 255.00V257.30" stroke="#2a2a2a" stroke-width="0.9"/>
<text x="152.10" y="265.20" font-size="7" stroke="#000" stroke-width="0.3" textLength="10.0" lengthAdjust="spacingAndGlyphs">180</text>
<text x="79.25" y="275.60" font-size="8.4" stroke="#000" stroke-width="0.4" textLength="23.2" lengthAdjust="spacingAndGlyphs">Months</text>
<text transform="translate(7.10 206.65) rotate(-90)" x="-13.30" y="0" font-size="8.6" stroke="#000" stroke-width="0.28" textLength="26.6" lengthAdjust="spacingAndGlyphs">OS (%)</text>
<text x="-0.9" y="155.1" font-size="12" font-weight="bold" stroke="#000" stroke-width="0.2">D</text>
<text x="47.6" y="151.5" font-size="7.8" font-weight="bold" stroke="#000" stroke-width="0.35" textLength="76.1" lengthAdjust="spacingAndGlyphs">BCL2-negative cases</text>
<polyline points="24.60,158.30 27.00,158.30 27.00,160.00 28.25,160.00 28.25,161.25 29.50,161.25 29.50,162.50 31.15,162.50 31.15,163.90 32.80,163.90 32.80,165.30 34.95,165.30 34.95,166.40 37.10,166.40 37.10,167.50 38.55,167.50 38.55,168.50 40.00,168.50 40.00,169.50 41.00,169.50 41.00,170.50 42.00,170.50 42.00,171.50 43.25,171.50 43.25,172.55 44.50,172.55 44.50,173.60 49.00,173.60 49.00,174.50 53.60,174.50 53.60,175.40 58.10,175.40 58.10,176.30 61.70,176.30 65.30,176.30 65.30,176.80 67.10,176.80 67.10,177.70 69.90,177.70 69.90,178.10 74.40,178.10 74.40,178.60 76.20,178.60 76.20,179.50 76.65,179.50 76.65,180.85 77.10,180.85 77.10,182.20 78.00,182.20 78.00,184.00 80.10,184.00 80.10,184.20 83.10,184.20 83.10,184.70 83.60,184.70 83.60,186.20 84.40,186.20 84.40,187.45 85.20,187.45 85.20,188.70 92.80,188.70 92.80,189.20 93.05,189.20 93.05,190.75 93.30,190.75 93.30,192.30 93.42,192.30 93.42,193.48 93.55,193.48 93.55,194.65 93.67,194.65 93.67,195.82 93.80,195.82 93.80,197.00 109.60,197.00 109.62,197.00 109.62,198.34 109.64,198.34 109.64,199.67 109.65,199.67 109.65,201.01 109.67,201.01 109.67,202.35 109.69,202.35 109.69,203.68 109.71,203.68 109.71,205.02 109.73,205.02 109.73,206.35 109.75,206.35 109.75,207.69 109.76,207.69 109.76,209.03 109.78,209.03 109.78,210.36 109.80,210.36 109.80,211.70 116.20,211.70" fill="none" stroke="#9a9a9a" stroke-width="1.1" stroke-linejoin="miter"/>
<polyline points="24.60,158.30 27.00,158.30 27.00,160.00 28.25,160.00 28.25,161.25 29.50,161.25 29.50,162.50 31.15,162.50 31.15,163.90 32.80,163.90 32.80,165.30 34.95,165.30 34.95,166.40 37.10,166.40 37.10,167.50 38.55,167.50 38.55,168.50 40.00,168.50 40.00,169.50 41.00,169.50 41.00,170.50 42.00,170.50 42.00,171.50 43.25,171.50 43.25,172.55 44.50,172.55 44.50,173.60 49.00,173.60 49.00,174.50 53.60,174.50 53.60,175.40 58.10,175.40 58.10,176.30 61.70,176.30 65.30,176.30 65.30,176.80 67.10,176.80 67.10,177.70 69.90,177.70 69.90,178.10 74.40,178.10 74.40,178.60 76.20,178.60 76.20,179.50 76.65,179.50 76.65,180.85 77.10,180.85 77.10,182.20 78.00,182.20 78.00,184.00" fill="none" stroke="#a2a2a2" stroke-width="1.15" stroke-linejoin="round" stroke-linecap="round"/>
<polyline points="24.60,158.30 25.20,158.30 27.30,158.30 27.30,159.90 28.40,159.90 28.40,161.00 29.50,161.00 29.50,162.10 30.35,162.10 30.35,163.45 31.20,163.45 31.20,164.80 31.70,164.80 31.70,165.90 32.20,165.90 32.20,167.00 33.05,167.00 33.05,168.05 33.90,168.05 33.90,169.10 34.95,169.10 34.95,170.45 36.00,170.45 36.00,171.80 38.50,171.80 38.50,172.60 40.00,172.60 40.00,173.00 41.35,173.00 41.35,174.15 42.70,174.15 42.70,175.30 44.50,175.30 44.50,177.10 47.20,177.10 47.20,177.60 50.90,177.60 50.90,179.40 54.50,179.40 54.50,179.80 61.70,179.80 63.50,179.80 63.50,180.30 64.90,180.30 64.90,181.60 67.10,181.60 67.10,182.50 69.90,182.50 69.90,183.00 73.50,183.00 73.50,183.40 75.30,183.40 75.30,183.90 75.75,183.90 75.75,185.05 76.20,185.05 76.20,186.20 78.00,186.20 78.00,186.70 80.00,186.70 80.00,187.10 92.80,187.10 92.90,187.10 92.90,188.50 93.00,188.50 93.00,189.90 93.10,189.90 93.10,191.30 93.17,191.30 93.17,192.50 93.23,192.50 93.23,193.70 93.30,193.70 93.30,194.90 108.00,194.90" fill="none" stroke="#1c1cb0" stroke-width="1.2" stroke-linejoin="miter"/>
<polyline points="24.60,158.30 25.20,158.30 27.30,158.30 27.30,159.90 28.40,159.90 28.40,161.00 29.50,161.00 29.50,162.10 30.35,162.10 30.35,163.45 31.20,163.45 31.20,164.80 31.70,164.80 31.70,165.90 32.20,165.90 32.20,167.00 33.05,167.00 33.05,168.05 33.90,168.05 33.90,169.10 34.95,169.10 34.95,170.45 36.00,170.45 36.00,171.80 38.50,171.80 38.50,172.60 40.00,172.60 40.00,173.00 41.35,173.00 41.35,174.15 42.70,174.15 42.70,175.30 44.50,175.30 44.50,177.10 47.20,177.10 47.20,177.60 50.90,177.60 50.90,179.40 54.50,179.40 54.50,179.80 61.70,179.80 63.50,179.80 63.50,180.30 64.90,180.30 64.90,181.60 67.10,181.60 67.10,182.50 69.90,182.50 69.90,183.00 73.50,183.00 73.50,183.40 75.30,183.40 75.30,183.90 75.75,183.90 75.75,185.05" fill="none" stroke="#1c1cb0" stroke-width="2.2" stroke-linejoin="round" stroke-linecap="round"/>
<path d="M106.9 193.1V194.9" stroke="#1c1cb0" stroke-width="0.9"/>
<path d="M108.0 193.1V194.9" stroke="#1c1cb0" stroke-width="0.9"/>
<path d="M116.2 209.9V211.7" stroke="#9a9a9a" stroke-width="0.9"/>
<text x="92.6" y="181.60" font-size="6.95" font-weight="bold" fill="#1c1cb0" stroke="#1c1cb0" stroke-width="0.38" textLength="44.6" lengthAdjust="spacingAndGlyphs">MYC+ (n=143)</text>
<text x="92.6" y="226.00" font-size="6.95" font-weight="bold" fill="#747474" stroke="#747474" stroke-width="0.38" textLength="66.3" lengthAdjust="spacingAndGlyphs">MYC-negative (n=90)</text>
<text x="35.4" y="244.20" font-size="6.95" font-weight="bold" fill="#000" stroke="#000" stroke-width="0.38" textLength="24.6" lengthAdjust="spacingAndGlyphs">p=.6292</text>
<path d="M203.80 158.50V255.30H336.30" fill="none" stroke="#2a2a2a" stroke-width="1"/>
<path d="M201.20 255.30H203.80" stroke="#2a2a2a" stroke-width="0.9"/>
<text x="196.50" y="257.80" font-size="7" stroke="#000" stroke-width="0.3" textLength="3.5" lengthAdjust="spacingAndGlyphs">0</text>
<path d="M201.20 236.00H203.80" stroke="#2a2a2a" stroke-width="0.9"/>
<text x="193.50" y="238.50" font-size="7" stroke="#000" stroke-width="0.3" textLength="6.5" lengthAdjust="spacingAndGlyphs">20</text>
<path d="M201.20 216.70H203.80" stroke="#2a2a2a" stroke-width="0.9"/>
<text x="193.50" y="219.20" font-size="7" stroke="#000" stroke-width="0.3" textLength="6.5" lengthAdjust="spacingAndGlyphs">40</text>
<path d="M201.20 197.40H203.80" stroke="#2a2a2a" stroke-width="0.9"/>
<text x="193.50" y="199.90" font-size="7" stroke="#000" stroke-width="0.3" textLength="6.5" lengthAdjust="spacingAndGlyphs">60</text>
<path d="M201.20 178.10H203.80" stroke="#2a2a2a" stroke-width="0.9"/>
<text x="193.50" y="180.60" font-size="7" stroke="#000" stroke-width="0.3" textLength="6.5" lengthAdjust="spacingAndGlyphs">80</text>
<path d="M201.20 158.80H203.80" stroke="#2a2a2a" stroke-width="0.9"/>
<text x="190.00" y="161.30" font-size="7" stroke="#000" stroke-width="0.3" textLength="10.0" lengthAdjust="spacingAndGlyphs">100</text>
<path d="M203.80 255.30V257.60" stroke="#2a2a2a" stroke-width="0.9"/>
<text x="202.05" y="265.50" font-size="7" stroke="#000" stroke-width="0.3" textLength="3.5" lengthAdjust="spacingAndGlyphs">0</text>
<path d="M218.52 255.30V257.60" stroke="#2a2a2a" stroke-width="0.9"/>
<text x="215.27" y="265.50" font-size="7" stroke="#000" stroke-width="0.3" textLength="6.5" lengthAdjust="spacingAndGlyphs">20</text>
<path d="M233.24 255.30V257.60" stroke="#2a2a2a" stroke-width="0.9"/>
<text x="229.99" y="265.50" font-size="7" stroke="#000" stroke-width="0.3" textLength="6.5" lengthAdjust="spacingAndGlyphs">40</text>
<path d="M247.97 255.30V257.60" stroke="#2a2a2a" stroke-width="0.9"/>
<text x="244.72" y="265.50" font-size="7" stroke="#000" stroke-width="0.3" textLength="6.5" lengthAdjust="spacingAndGlyphs">60</text>
<path d="M262.69 255.30V257.60" stroke="#2a2a2a" stroke-width="0.9"/>
<text x="259.44" y="265.50" font-size="7" stroke="#000" stroke-width="0.3" textLength="6.5" lengthAdjust="spacingAndGlyphs">80</text>
<path d="M277.41 255.30V257.60" stroke="#2a2a2a" stroke-width="0.9"/>
<text x="272.41" y="265.50" font-size="7" stroke="#000" stroke-width="0.3" textLength="10.0" lengthAdjust="spacingAndGlyphs">100</text>
<path d="M292.13 255.30V257.60" stroke="#2a2a2a" stroke-width="0.9"/>
<text x="287.13" y="265.50" font-size="7" stroke="#000" stroke-width="0.3" textLength="10.0" lengthAdjust="spacingAndGlyphs">120</text>
<path d="M306.86 255.30V257.60" stroke="#2a2a2a" stroke-width="0.9"/>
<text x="301.86" y="265.50" font-size="7" stroke="#000" stroke-width="0.3" textLength="10.0" lengthAdjust="spacingAndGlyphs">140</text>
<path d="M321.58 255.30V257.60" stroke="#2a2a2a" stroke-width="0.9"/>
<text x="316.58" y="265.50" font-size="7" stroke="#000" stroke-width="0.3" textLength="10.0" lengthAdjust="spacingAndGlyphs">160</text>
<path d="M336.30 255.30V257.60" stroke="#2a2a2a" stroke-width="0.9"/>
<text x="331.30" y="265.50" font-size="7" stroke="#000" stroke-width="0.3" textLength="10.0" lengthAdjust="spacingAndGlyphs">180</text>
<text x="258.45" y="275.90" font-size="8.4" stroke="#000" stroke-width="0.4" textLength="23.2" lengthAdjust="spacingAndGlyphs">Months</text>
<text transform="translate(186.30 207.05) rotate(-90)" x="-13.30" y="0" font-size="8.6" stroke="#000" stroke-width="0.28" textLength="26.6" lengthAdjust="spacingAndGlyphs">OS (%)</text>
<text x="179.3" y="155.6" font-size="12" font-weight="bold" stroke="#000" stroke-width="0.2">E</text>
<text x="248.2" y="151.9" font-size="7.8" font-weight="bold" stroke="#000" stroke-width="0.35" textLength="32.5" lengthAdjust="spacingAndGlyphs">All cases</text>
<polyline points="204.10,159.20 204.80,159.20 204.80,159.50 206.13,159.50 206.13,160.83 207.47,160.83 207.47,162.17 208.80,162.17 208.80,163.50 209.90,163.50 209.90,164.60 211.00,164.60 211.00,165.70 212.40,165.70 212.40,167.10 213.90,167.10 213.90,169.00 215.70,169.00 215.70,170.40 217.50,170.40 217.50,171.10 219.70,171.10 219.70,172.60 222.00,172.60 222.00,174.20 224.20,174.20 224.20,176.00 226.30,176.00 226.30,176.70 228.50,176.70 228.50,176.30 230.70,176.30 230.70,177.80 232.90,177.80 232.90,178.90 236.50,178.90 236.50,179.20 240.10,179.20 240.10,179.00 242.30,179.00 242.30,178.90 243.70,178.90 243.70,180.00 245.90,180.00 245.90,181.00 248.10,181.00 248.10,181.80 252.30,181.80 255.00,181.80 255.00,182.50 255.85,182.50 255.85,183.60 256.70,183.60 256.70,184.70 257.15,184.70 257.15,185.80 257.60,185.80 257.60,186.90 263.20,186.90 263.20,187.30 264.50,187.30 264.50,189.00 271.50,189.00 271.50,189.50 272.80,189.50 272.80,190.80 273.10,190.80 273.10,192.10 273.40,192.10 273.40,193.40 273.70,193.40 273.70,194.70 273.90,194.70 273.90,195.75 274.10,195.75 274.10,196.80 288.80,196.80 288.82,196.80 288.82,198.08 288.84,198.08 288.84,199.36 288.85,199.36 288.85,200.65 288.87,200.65 288.87,201.93 288.89,201.93 288.89,203.21 288.91,203.21 288.91,204.49 288.93,204.49 288.93,205.77 288.95,205.77 288.95,207.05 288.96,207.05 288.96,208.34 288.98,208.34 288.98,209.62 289.00,209.62 289.00,210.90 295.30,210.90" fill="none" stroke="#9a9a9a" stroke-width="1.1" stroke-linejoin="miter"/>
<polyline points="204.10,159.20 204.80,159.20 204.80,159.50 206.13,159.50 206.13,160.83 207.47,160.83 207.47,162.17 208.80,162.17 208.80,163.50 209.90,163.50 209.90,164.60 211.00,164.60 211.00,165.70 212.40,165.70 212.40,167.10 213.90,167.10 213.90,169.00 215.70,169.00 215.70,170.40 217.50,170.40 217.50,171.10 219.70,171.10 219.70,172.60 222.00,172.60 222.00,174.20 224.20,174.20 224.20,176.00 226.30,176.00 226.30,176.70 228.50,176.70 228.50,176.30 230.70,176.30 230.70,177.80 232.90,177.80 232.90,178.90 236.50,178.90 236.50,179.20 240.10,179.20 240.10,179.00 242.30,179.00 242.30,178.90 243.70,178.90 243.70,180.00 245.90,180.00 245.90,181.00 248.10,181.00 248.10,181.80 252.30,181.80 255.00,181.80 255.00,182.50 255.85,182.50 255.85,183.60" fill="none" stroke="#a2a2a2" stroke-width="1.9" stroke-linejoin="round" stroke-linecap="round"/>
<polyline points="204.10,159.20 204.80,159.20 204.80,159.50 206.05,159.50 206.05,160.95 207.30,160.95 207.30,162.40 208.25,162.40 208.25,163.70 209.20,163.70 209.20,165.00 209.70,165.00 209.70,166.25 210.20,166.25 210.20,167.50 210.57,167.50 210.57,168.60 210.93,168.60 210.93,169.70 211.30,169.70 211.30,170.80 212.40,170.80 212.40,172.60 212.90,172.60 212.90,173.80 213.40,173.80 213.40,175.00 213.87,175.00 213.87,176.27 214.33,176.27 214.33,177.53 214.80,177.53 214.80,178.80 215.27,178.80 215.27,180.03 215.73,180.03 215.73,181.27 216.20,181.27 216.20,182.50 216.83,182.50 216.83,183.60 217.47,183.60 217.47,184.70 218.10,184.70 218.10,185.80 218.90,185.80 218.90,186.93 219.70,186.93 219.70,188.07 220.50,188.07 220.50,189.20 221.65,189.20 221.65,190.60 222.80,190.60 222.80,192.00 225.20,192.00 225.20,193.90 228.00,193.90 228.00,195.30 230.90,195.30 230.90,196.70 233.70,196.70 233.70,198.10 236.30,198.10 236.30,199.20 237.55,199.20 237.55,200.80 238.80,200.80 238.80,202.40 239.85,202.40 239.85,203.85 240.90,203.85 240.90,205.30 242.00,205.30 242.00,206.40 243.10,206.40 243.10,207.50 246.00,207.50 246.00,208.90 248.90,208.90 248.90,210.40 251.80,210.40 251.80,211.80 254.70,211.80 254.70,213.30 256.15,213.30 256.15,214.35 257.60,214.35 257.60,215.40 260.30,215.40 260.30,217.00 262.50,217.00 263.60,217.00 263.60,218.60 265.20,218.60 265.20,219.70 266.30,219.70 266.30,221.30 267.15,221.30 267.15,222.40 268.00,222.40 268.00,223.50 268.50,223.50 268.50,224.30 281.00,224.30 281.12,224.30 281.12,225.55 281.25,225.55 281.25,226.80 281.38,226.80 281.38,228.05 281.50,228.05 281.50,229.30 322.50,229.30" fill="none" stroke="#000" stroke-width="1.2" stroke-linejoin="miter"/>
<polyline points="204.10,159.20 204.80,159.20 204.80,159.50 206.05,159.50 206.05,160.95 207.30,160.95 207.30,162.40 208.25,162.40 208.25,163.70 209.20,163.70 209.20,165.00 209.70,165.00 209.70,166.25 210.20,166.25 210.20,167.50 210.57,167.50 210.57,168.60 210.93,168.60 210.93,169.70 211.30,169.70 211.30,170.80 212.40,170.80 212.40,172.60 212.90,172.60 212.90,173.80 213.40,173.80 213.40,175.00 213.87,175.00 213.87,176.27 214.33,176.27 214.33,177.53 214.80,177.53 214.80,178.80 215.27,178.80 215.27,180.03 215.73,180.03 215.73,181.27 216.20,181.27 216.20,182.50 216.83,182.50 216.83,183.60 217.47,183.60 217.47,184.70 218.10,184.70 218.10,185.80 218.90,185.80 218.90,186.93 219.70,186.93 219.70,188.07 220.50,188.07 220.50,189.20 221.65,189.20 221.65,190.60 222.80,190.60 222.80,192.00 225.20,192.00 225.20,193.90 228.00,193.90 228.00,195.30 230.90,195.30 230.90,196.70 233.70,196.70 233.70,198.10 236.30,198.10 236.30,199.20 237.55,199.20 237.55,200.80 238.80,200.80 238.80,202.40 239.85,202.40 239.85,203.85 240.90,203.85 240.90,205.30 242.00,205.30 242.00,206.40 243.10,206.40 243.10,207.50 246.00,207.50 246.00,208.90 248.90,208.90 248.90,210.40 251.80,210.40 251.80,211.80 254.70,211.80 254.70,213.30 256.15,213.30 256.15,214.35 257.60,214.35 257.60,215.40 260.30,215.40 260.30,217.00 262.50,217.00 263.60,217.00 263.60,218.60 265.20,218.60 265.20,219.70 266.30,219.70 266.30,221.30 267.15,221.30 267.15,222.40 268.00,222.40 268.00,223.50" fill="none" stroke="#000" stroke-width="1.7" stroke-linejoin="round" stroke-linecap="round"/>
<path d="M295.3 209.1V210.9" stroke="#9a9a9a" stroke-width="0.9"/>
<path d="M271.2 222.5V224.3" stroke="#000" stroke-width="0.9"/>
<path d="M275.6 222.5V224.3" stroke="#000" stroke-width="0.9"/>
<path d="M280.1 222.5V224.3" stroke="#000" stroke-width="0.9"/>
<path d="M287.7 227.5V229.3" stroke="#000" stroke-width="0.9"/>
<path d="M296.8 227.5V229.3" stroke="#000" stroke-width="0.9"/>
<path d="M322.5 227.5V229.3" stroke="#000" stroke-width="0.9"/>
<text x="269.9" y="184.00" font-size="6.95" font-weight="bold" fill="#747474" stroke="#747474" stroke-width="0.38" textLength="72.0" lengthAdjust="spacingAndGlyphs">BCL2-negative (n=233)</text>
<text x="284.4" y="242.40" font-size="6.95" font-weight="bold" fill="#000" stroke="#000" stroke-width="0.38" textLength="46.2" lengthAdjust="spacingAndGlyphs">BCL2+ (n=233)</text>
<text x="215.0" y="244.90" font-size="6.95" font-weight="bold" fill="#000" stroke="#000" stroke-width="0.38" textLength="24.7" lengthAdjust="spacingAndGlyphs">p&lt;.0001</text>
<path d="M381.60 158.50V254.80H514.10" fill="none" stroke="#2a2a2a" stroke-width="1"/>
<path d="M379.00 254.80H381.60" stroke="#2a2a2a" stroke-width="0.9"/>
<text x="374.30" y="257.30" font-size="7" stroke="#000" stroke-width="0.3" textLength="3.5" lengthAdjust="spacingAndGlyphs">0</text>
<path d="M379.00 235.60H381.60" stroke="#2a2a2a" stroke-width="0.9"/>
<text x="371.30" y="238.10" font-size="7" stroke="#000" stroke-width="0.3" textLength="6.5" lengthAdjust="spacingAndGlyphs">20</text>
<path d="M379.00 216.40H381.60" stroke="#2a2a2a" stroke-width="0.9"/>
<text x="371.30" y="218.90" font-size="7" stroke="#000" stroke-width="0.3" textLength="6.5" lengthAdjust="spacingAndGlyphs">40</text>
<path d="M379.00 197.20H381.60" stroke="#2a2a2a" stroke-width="0.9"/>
<text x="371.30" y="199.70" font-size="7" stroke="#000" stroke-width="0.3" textLength="6.5" lengthAdjust="spacingAndGlyphs">60</text>
<path d="M379.00 178.00H381.60" stroke="#2a2a2a" stroke-width="0.9"/>
<text x="371.30" y="180.50" font-size="7" stroke="#000" stroke-width="0.3" textLength="6.5" lengthAdjust="spacingAndGlyphs">80</text>
<path d="M379.00 158.80H381.60" stroke="#2a2a2a" stroke-width="0.9"/>
<text x="367.80" y="161.30" font-size="7" stroke="#000" stroke-width="0.3" textLength="10.0" lengthAdjust="spacingAndGlyphs">100</text>
<path d="M381.60 254.80V257.10" stroke="#2a2a2a" stroke-width="0.9"/>
<text x="379.85" y="265.00" font-size="7" stroke="#000" stroke-width="0.3" textLength="3.5" lengthAdjust="spacingAndGlyphs">0</text>
<path d="M396.32 254.80V257.10" stroke="#2a2a2a" stroke-width="0.9"/>
<text x="393.07" y="265.00" font-size="7" stroke="#000" stroke-width="0.3" textLength="6.5" lengthAdjust="spacingAndGlyphs">20</text>
<path d="M411.04 254.80V257.10" stroke="#2a2a2a" stroke-width="0.9"/>
<text x="407.79" y="265.00" font-size="7" stroke="#000" stroke-width="0.3" textLength="6.5" lengthAdjust="spacingAndGlyphs">40</text>
<path d="M425.77 254.80V257.10" stroke="#2a2a2a" stroke-width="0.9"/>
<text x="422.52" y="265.00" font-size="7" stroke="#000" stroke-width="0.3" textLength="6.5" lengthAdjust="spacingAndGlyphs">60</text>
<path d="M440.49 254.80V257.10" stroke="#2a2a2a" stroke-width="0.9"/>
<text x="437.24" y="265.00" font-size="7" stroke="#000" stroke-width="0.3" textLength="6.5" lengthAdjust="spacingAndGlyphs">80</text>
<path d="M455.21 254.80V257.10" stroke="#2a2a2a" stroke-width="0.9"/>
<text x="450.21" y="265.00" font-size="7" stroke="#000" stroke-width="0.3" textLength="10.0" lengthAdjust="spacingAndGlyphs">100</text>
<path d="M469.93 254.80V257.10" stroke="#2a2a2a" stroke-width="0.9"/>
<text x="464.93" y="265.00" font-size="7" stroke="#000" stroke-width="0.3" textLength="10.0" lengthAdjust="spacingAndGlyphs">120</text>
<path d="M484.66 254.80V257.10" stroke="#2a2a2a" stroke-width="0.9"/>
<text x="479.66" y="265.00" font-size="7" stroke="#000" stroke-width="0.3" textLength="10.0" lengthAdjust="spacingAndGlyphs">140</text>
<path d="M499.38 254.80V257.10" stroke="#2a2a2a" stroke-width="0.9"/>
<text x="494.38" y="265.00" font-size="7" stroke="#000" stroke-width="0.3" textLength="10.0" lengthAdjust="spacingAndGlyphs">160</text>
<path d="M514.10 254.80V257.10" stroke="#2a2a2a" stroke-width="0.9"/>
<text x="509.10" y="265.00" font-size="7" stroke="#000" stroke-width="0.3" textLength="10.0" lengthAdjust="spacingAndGlyphs">180</text>
<text x="436.25" y="275.40" font-size="8.4" stroke="#000" stroke-width="0.4" textLength="23.2" lengthAdjust="spacingAndGlyphs">Months</text>
<text transform="translate(364.10 206.80) rotate(-90)" x="-13.30" y="0" font-size="8.6" stroke="#000" stroke-width="0.28" textLength="26.6" lengthAdjust="spacingAndGlyphs">OS (%)</text>
<text x="356.9" y="155.4" font-size="12" font-weight="bold" stroke="#000" stroke-width="0.2">F</text>
<text x="406.3" y="151.5" font-size="7.8" font-weight="bold" stroke="#000" stroke-width="0.35" textLength="73.1" lengthAdjust="spacingAndGlyphs">MYC-negative cases</text>
<polyline points="382.60,159.10 384.50,159.10 384.50,160.55 386.40,160.55 386.40,162.00 388.23,162.00 388.23,163.43 390.07,163.43 390.07,164.87 391.90,164.87 391.90,166.30 392.98,166.30 392.98,167.56 394.06,167.56 394.06,168.82 395.14,168.82 395.14,170.08 396.22,170.08 396.22,171.34 397.30,171.34 397.30,172.60 400.00,172.60 400.00,173.20 403.60,173.20 403.60,174.20 407.20,174.20 407.20,175.10 411.60,175.10 411.60,176.10 415.90,176.10 415.90,177.60 420.30,177.60 420.30,179.00 424.60,179.00 424.60,180.30 427.60,180.30 427.60,180.70 434.10,180.70 434.10,181.40 434.83,181.40 434.83,182.63 435.57,182.63 435.57,183.87 436.30,183.87 436.30,185.10 438.50,185.10 438.50,186.90 440.20,186.90 440.20,188.40 441.10,188.40 441.10,189.67 442.00,189.67 442.00,190.93 442.90,190.93 442.90,192.20 450.90,192.20 450.90,193.00 450.98,193.00 450.98,194.37 451.06,194.37 451.06,195.73 451.13,195.73 451.13,197.10 451.21,197.10 451.21,198.47 451.29,198.47 451.29,199.83 451.37,199.83 451.37,201.20 451.44,201.20 451.44,202.57 451.52,202.57 451.52,203.93 451.60,203.93 451.60,205.30 466.10,205.30 466.10,206.00 466.16,206.00 466.16,207.27 466.22,207.27 466.22,208.53 466.28,208.53 466.28,209.80 466.33,209.80 466.33,211.07 466.39,211.07 466.39,212.33 466.45,212.33 466.45,213.60 466.51,213.60 466.51,214.87 466.57,214.87 466.57,216.13 466.62,216.13 466.62,217.40 466.68,217.40 466.68,218.67 466.74,218.67 466.74,219.93 466.80,219.93 466.80,221.20 473.30,221.20" fill="none" stroke="#9a9a9a" stroke-width="1.1" stroke-linejoin="miter"/>
<polyline points="382.60,159.10 384.50,159.10 384.50,160.55 386.40,160.55 386.40,162.00 388.23,162.00 388.23,163.43 390.07,163.43 390.07,164.87 391.90,164.87 391.90,166.30 392.98,166.30 392.98,167.56 394.06,167.56 394.06,168.82 395.14,168.82 395.14,170.08 396.22,170.08 396.22,171.34 397.30,171.34 397.30,172.60 400.00,172.60 400.00,173.20 403.60,173.20 403.60,174.20 407.20,174.20 407.20,175.10 411.60,175.10 411.60,176.10 415.90,176.10 415.90,177.60 420.30,177.60 420.30,179.00 424.60,179.00 424.60,180.30 427.60,180.30 427.60,180.70 434.10,180.70 434.10,181.40 434.83,181.40 434.83,182.63 435.57,182.63 435.57,183.87 436.30,183.87 436.30,185.10 438.50,185.10 438.50,186.90" fill="none" stroke="#a2a2a2" stroke-width="1.3" stroke-linejoin="round" stroke-linecap="round"/>
<polyline points="382.60,159.10 383.20,159.10 383.20,159.30 385.30,159.30 385.30,160.30 387.50,160.30 387.50,162.00 389.70,162.00 389.70,163.60 390.80,163.60 390.80,164.70 391.90,164.70 391.90,165.80 392.95,165.80 392.95,166.90 394.00,166.90 394.00,168.00 394.85,168.00 394.85,169.05 395.70,169.05 395.70,170.10 397.30,170.10 397.30,171.50 400.00,171.50 400.00,172.20 403.60,172.20 403.60,172.50 407.20,172.50 407.20,172.90 410.90,172.90 410.90,173.20 413.80,173.20 413.80,174.00 415.90,174.00 415.90,175.40 416.65,175.40 416.65,176.50 417.40,176.50 417.40,177.60 419.60,177.60 419.60,179.00 421.70,179.00 421.70,180.90 424.00,180.90 424.00,182.20 426.50,182.20 426.50,183.00 426.70,183.00 426.70,184.05 426.90,184.05 426.90,185.10 434.10,185.10 436.30,185.10 436.30,186.90 440.70,186.90 440.70,188.70 441.07,188.70 441.07,190.13 441.43,190.13 441.43,191.57 441.80,191.57 441.80,193.00 458.10,193.00 458.19,193.00 458.19,194.35 458.28,194.35 458.28,195.70 458.36,195.70 458.36,197.05 458.45,197.05 458.45,198.40 458.54,198.40 458.54,199.75 458.62,199.75 458.62,201.10 458.71,201.10 458.71,202.45 458.80,202.45 458.80,203.80 499.70,203.80" fill="none" stroke="#1c1cb0" stroke-width="1.2" stroke-linejoin="miter"/>
<polyline points="382.60,159.10 383.20,159.10 383.20,159.30 385.30,159.30 385.30,160.30 387.50,160.30 387.50,162.00 389.70,162.00 389.70,163.60 390.80,163.60 390.80,164.70 391.90,164.70 391.90,165.80 392.95,165.80 392.95,166.90 394.00,166.90 394.00,168.00 394.85,168.00 394.85,169.05 395.70,169.05 395.70,170.10 397.30,170.10 397.30,171.50 400.00,171.50 400.00,172.20 403.60,172.20 403.60,172.50 407.20,172.50 407.20,172.90 410.90,172.90 410.90,173.20 413.80,173.20 413.80,174.00 415.90,174.00 415.90,175.40 416.65,175.40 416.65,176.50 417.40,176.50 417.40,177.60 419.60,177.60 419.60,179.00 421.70,179.00 421.70,180.90 424.00,180.90 424.00,182.20 426.50,182.20 426.50,183.00 426.70,183.00 426.70,184.05 426.90,184.05 426.90,185.10 434.10,185.10 436.30,185.10 436.30,186.90 440.70,186.90 440.70,188.70" fill="none" stroke="#1c1cb0" stroke-width="1.3" stroke-linejoin="round" stroke-linecap="round"/>
<path d="M453.0 191.2V193.0" stroke="#1c1cb0" stroke-width="0.9"/>
<path d="M465.4 202.0V203.8" stroke="#1c1cb0" stroke-width="0.9"/>
<path d="M474.8 202.0V203.8" stroke="#1c1cb0" stroke-width="0.9"/>
<path d="M499.7 202.0V203.8" stroke="#1c1cb0" stroke-width="0.9"/>
<path d="M473.3 219.4V221.2" stroke="#9a9a9a" stroke-width="0.9"/>
<text x="462.6" y="190.10" font-size="6.95" font-weight="bold" fill="#1c1cb0" stroke="#1c1cb0" stroke-width="0.38" textLength="42.5" lengthAdjust="spacingAndGlyphs">BCL2+ (n=76)</text>
<text x="448.0" y="234.70" font-size="6.95" font-weight="bold" fill="#747474" stroke="#747474" stroke-width="0.38" textLength="68.5" lengthAdjust="spacingAndGlyphs">BCL2-negative (n=90)</text>
<text x="393.0" y="244.40" font-size="6.95" font-weight="bold" fill="#000" stroke="#000" stroke-width="0.38" textLength="24.5" lengthAdjust="spacingAndGlyphs">p=.7569</text>
</svg>
</body></html>
